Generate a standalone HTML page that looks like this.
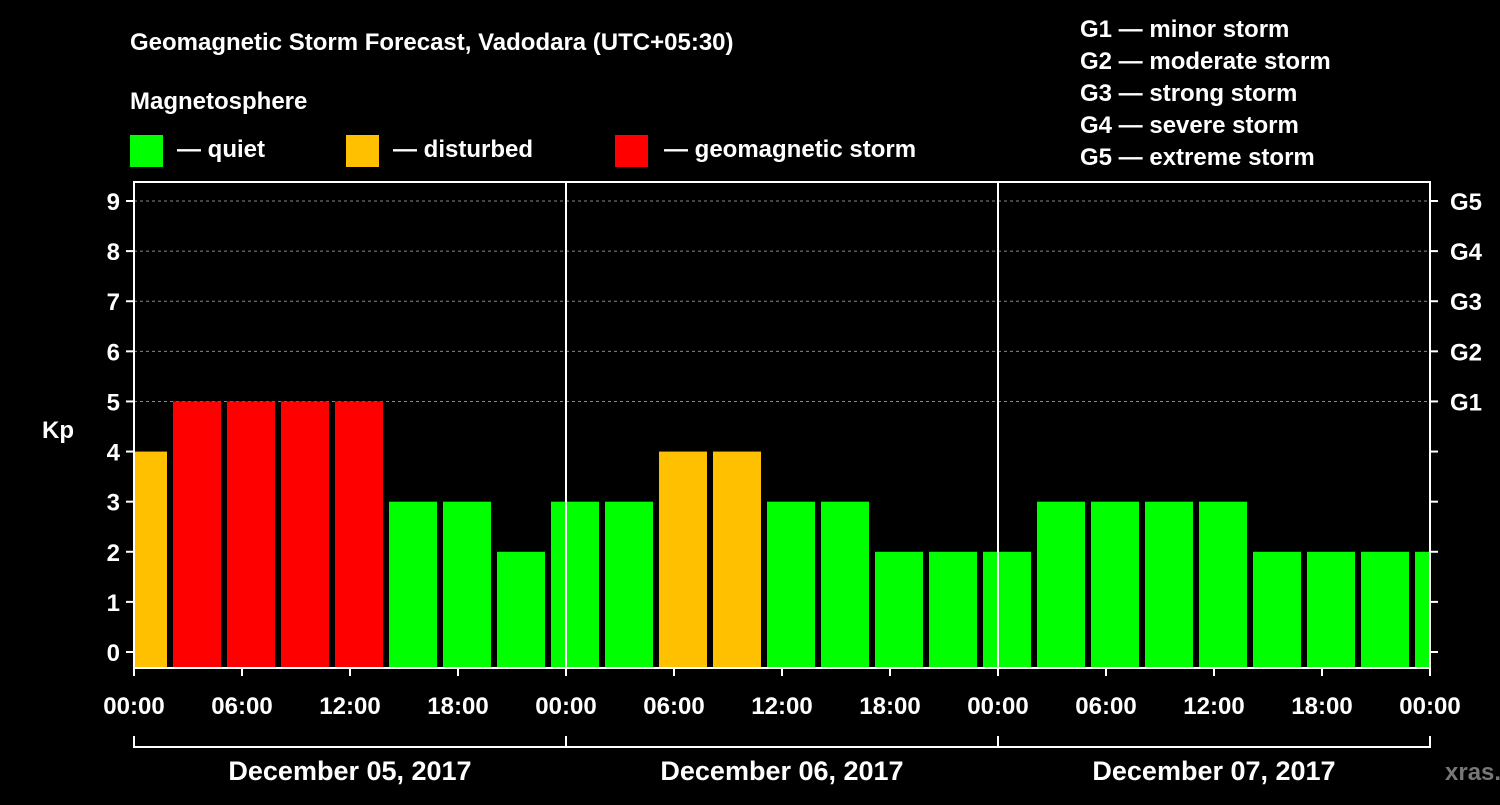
<!DOCTYPE html>
<html><head><meta charset="utf-8"><style>
body{margin:0;background:#000;width:1500px;height:800px;overflow:hidden}
svg text{font-family:"Liberation Sans",Arial,sans-serif;font-weight:bold;fill:#fff}
</style></head><body>
<svg id="c" width="1500" height="800" xmlns="http://www.w3.org/2000/svg">
<text x="130" y="50" font-size="24">Geomagnetic Storm Forecast, Vadodara (UTC+05:30)</text>
<text x="130" y="109" font-size="24">Magnetosphere</text>
<rect x="130" y="135" width="33" height="32" fill="#00ff00"/>
<text x="177" y="157" font-size="24">— quiet</text>
<rect x="346" y="135" width="33" height="32" fill="#ffc000"/>
<text x="393" y="157" font-size="24">— disturbed</text>
<rect x="615" y="135" width="33" height="32" fill="#ff0000"/>
<text x="664" y="157" font-size="24">— geomagnetic storm</text>
<g font-size="24">
<text x="1080" y="37">G1 — minor storm</text>
<text x="1080" y="69">G2 — moderate storm</text>
<text x="1080" y="101">G3 — strong storm</text>
<text x="1080" y="133">G4 — severe storm</text>
<text x="1080" y="165">G5 — extreme storm</text>
</g>
<g id="plot"></g>
<text x="1445" y="780" font-size="24" style="fill:#777">xras.ru</text>
</svg>
<script>
const kpValues=[4,5,5,5,5,3,3,2,3,3,4,4,3,3,2,2,2,3,3,3,3,2,2,2,2];
const xTickLabels=["00:00","06:00","12:00","18:00","00:00","06:00","12:00","18:00","00:00","06:00","12:00","18:00","00:00"];
const dayLabels=["December 05, 2017","December 06, 2017","December 07, 2017"];
const gLabels=["G1","G2","G3","G4","G5"];
const NS="http://www.w3.org/2000/svg";
const g=document.getElementById('plot');
const L=134,R=1430,T=182,B=668;
const y=v=>652-v*50.11;
const x=h=>L+h*18;
function mk(t,a,p){const e=document.createElementNS(NS,t);for(const k in a)e.setAttribute(k,a[k]);(p||g).appendChild(e);return e;}
const clip=mk('clipPath',{id:'pc'});mk('rect',{x:L,y:T,width:R-L,height:B-T},clip);
for(let v=5;v<=9;v++){const l=mk('line',{x1:L,x2:R,y1:y(v),y2:y(v),stroke:'#888','stroke-dasharray':'3,3'});

}
const bg=mk('g',{'clip-path':'url(#pc)'});
kpValues.forEach((v,i)=>{const c=x(0.5+i*3);const col=v>=5?'#ff0000':v==4?'#ffc000':'#00ff00';
const r=mk('rect',{x:c-24,y:y(v),width:48,height:B-y(v),fill:col},bg);

});
[24,48].forEach(h=>{const l=mk('line',{x1:x(h),x2:x(h),y1:T,y2:B,stroke:'#fff','stroke-width':2});

});
const fr=mk('rect',{x:L,y:T,width:R-L,height:B-T,fill:'none',stroke:'#fff','stroke-width':2});


for(let v=0;v<=9;v++){mk('line',{x1:L-8,x2:L,y1:y(v),y2:y(v),stroke:'#fff','stroke-width':2});
mk('line',{x1:R,x2:R+8,y1:y(v),y2:y(v),stroke:'#fff','stroke-width':2});
const t=mk('text',{x:L-14,y:y(v)+9,'font-size':24,'text-anchor':'end'});t.textContent=v;

}
gLabels.forEach((s,i)=>{const t=mk('text',{x:R+20,y:y(5+i)+9,'font-size':24});t.textContent=s;

});
const yt=mk('text',{x:42,y:438,'font-size':24});yt.textContent='Kp';


xTickLabels.forEach((s,i)=>{const h=i*6;mk('line',{x1:x(h),x2:x(h),y1:B,y2:B+8,stroke:'#fff','stroke-width':2});
const t=mk('text',{x:x(h),y:714,'font-size':24,'text-anchor':'middle'});t.textContent=s;

});
mk('line',{x1:L,x2:R,y1:747,y2:747,stroke:'#fff','stroke-width':2});
[0,24,48,72].forEach(h=>mk('line',{x1:x(h),x2:x(h),y1:736,y2:748,stroke:'#fff','stroke-width':2}));
dayLabels.forEach((s,i)=>{const t=mk('text',{x:x(i*24+12),y:780,'font-size':27,'text-anchor':'middle'});t.textContent=s;

});
</script>
</body></html>
